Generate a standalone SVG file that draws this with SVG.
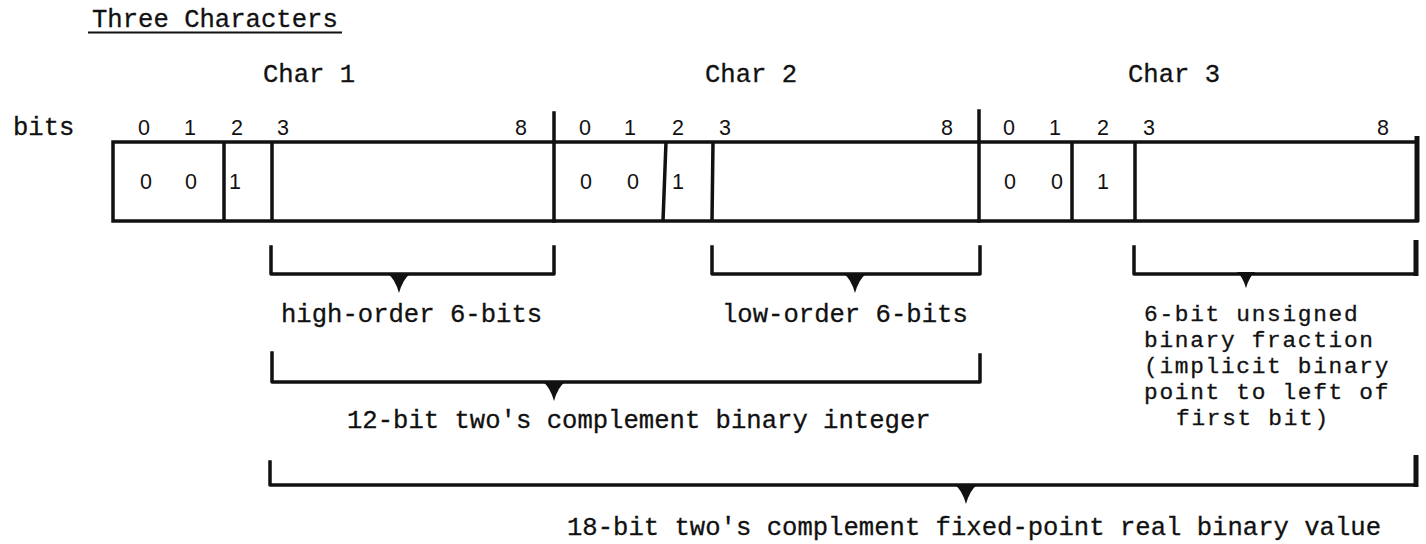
<svg xmlns="http://www.w3.org/2000/svg" width="1426" height="544" viewBox="0 0 1426 544">
<style>
  .tw { font-family: "Liberation Mono", "Courier New", monospace; font-size: 25.6px; fill: #111; stroke: #111; stroke-width: 0.3; }
  .tws { font-family: "Liberation Mono", "Courier New", monospace; font-size: 22.8px; letter-spacing: 1.7px; fill: #111; stroke: #111; stroke-width: 0.3; }
  .dg { font-family: "Liberation Sans", Arial, sans-serif; font-size: 21.5px; fill: #111; text-anchor: middle; }
  .ln { stroke: #111; stroke-width: 3.5; fill: none; stroke-linecap: square; stroke-linejoin: round; }
  .thick { stroke: #111; stroke-width: 5; fill: none; }
  .tri { fill: #111; stroke: none; }
</style>
<defs>
  <path id="tri" class="tri" d="M -11 0 L 11 0 Q 4 5 0 19 Q -4 5 -11 0 Z"/>
</defs>
<rect width="1426" height="544" fill="#fff"/>

<g id="title">
  <text class="tw" x="92" y="27">Three Characters</text>
  <line x1="88" y1="32.5" x2="342" y2="32.5" stroke="#111" stroke-width="2"/>
</g>

<g id="char-labels">
  <text class="tw" x="309" y="82" text-anchor="middle">Char 1</text>
  <text class="tw" x="751" y="82" text-anchor="middle">Char 2</text>
  <text class="tw" x="1174" y="82" text-anchor="middle">Char 3</text>
</g>

<g id="bits-header">
  <text class="tw" x="13" y="135">bits</text>
  <text class="dg" x="144" y="135">0</text>
  <text class="dg" x="190" y="135">1</text>
  <text class="dg" x="237" y="135">2</text>
  <text class="dg" x="283" y="135">3</text>
  <text class="dg" x="521" y="135">8</text>
  <text class="dg" x="585" y="135">0</text>
  <text class="dg" x="630" y="135">1</text>
  <text class="dg" x="678" y="135">2</text>
  <text class="dg" x="725" y="135">3</text>
  <text class="dg" x="947" y="135">8</text>
  <text class="dg" x="1009" y="135">0</text>
  <text class="dg" x="1055" y="135">1</text>
  <text class="dg" x="1103" y="135">2</text>
  <text class="dg" x="1149" y="135">3</text>
  <text class="dg" x="1383" y="135">8</text>
</g>

<g id="char1">
  <path class="ln" d="M 113 142 L 554 142 M 113 221 L 554 221 M 113 142 L 113 221 M 224 142 L 224 221 M 272 142 L 272 221 M 554 113 L 554 221"/>
  <text class="dg" x="146" y="189">0</text>
  <text class="dg" x="191" y="189">0</text>
  <text class="dg" x="235" y="189">1</text>
</g>

<g id="char2">
  <path class="ln" d="M 554 142 L 979 142 M 554 221 L 979 221 M 666 142 L 663 221 M 713 142 L 712 221 M 979 111 L 979 221"/>
  <text class="dg" x="586" y="189">0</text>
  <text class="dg" x="633" y="189">0</text>
  <text class="dg" x="678" y="189">1</text>
</g>

<g id="char3">
  <path class="ln" d="M 979 142 L 1417 142 M 979 221 L 1417 221 M 1072 142 L 1072 221 M 1135 142 L 1135 221"/>
  <line class="thick" x1="1417" y1="136" x2="1417" y2="222"/>
  <text class="dg" x="1010" y="189">0</text>
  <text class="dg" x="1057" y="189">0</text>
  <text class="dg" x="1103" y="189">1</text>
</g>

<g id="connectors">
  <g id="bracket-high">
    <path class="ln" d="M 271 247 L 271 274 L 554 274 L 554 247"/>
    <use href="#tri" x="399" y="274"/>
  </g>
  <g id="bracket-low">
    <path class="ln" d="M 712 247 L 712 274 L 980 274 L 980 247"/>
    <use href="#tri" x="855" y="274"/>
  </g>
  <g id="bracket-frac">
    <path class="ln" d="M 1134 247 L 1134 274 L 1416 274"/>
    <line class="thick" x1="1416" y1="240" x2="1416" y2="276"/>
    <use href="#tri" x="1246" y="272" transform="translate(1246 272) scale(0.85) translate(-1246 -272)"/>
  </g>
  <g id="bracket-int">
    <path class="ln" d="M 272 353 L 272 382 L 980 382 L 980 355"/>
    <use href="#tri" x="554" y="382"/>
  </g>
  <g id="bracket-real">
    <path class="ln" d="M 270 462 L 270 485 L 1415 485"/>
    <line class="thick" x1="1416" y1="455" x2="1416" y2="487"/>
    <use href="#tri" x="966" y="485"/>
  </g>
</g>

<g id="label-high">
  <text class="tw" x="281" y="322">high-order 6-bits</text>
</g>
<g id="label-low">
  <text class="tw" x="722" y="322">low-order 6-bits</text>
</g>
<g id="label-frac">
  <text class="tws" x="1144" y="321">6-bit unsigned</text>
  <text class="tws" x="1144" y="347">binary fraction</text>
  <text class="tws" x="1144" y="373">(implicit binary</text>
  <text class="tws" x="1144" y="399">point to left of</text>
  <text class="tws" x="1176" y="425">first bit)</text>
</g>
<g id="label-int">
  <text class="tw" x="347" y="428">12-bit two's complement binary integer</text>
</g>
<g id="label-real">
  <text class="tw" x="567" y="535">18-bit two's complement fixed-point real binary value</text>
</g>
</svg>
